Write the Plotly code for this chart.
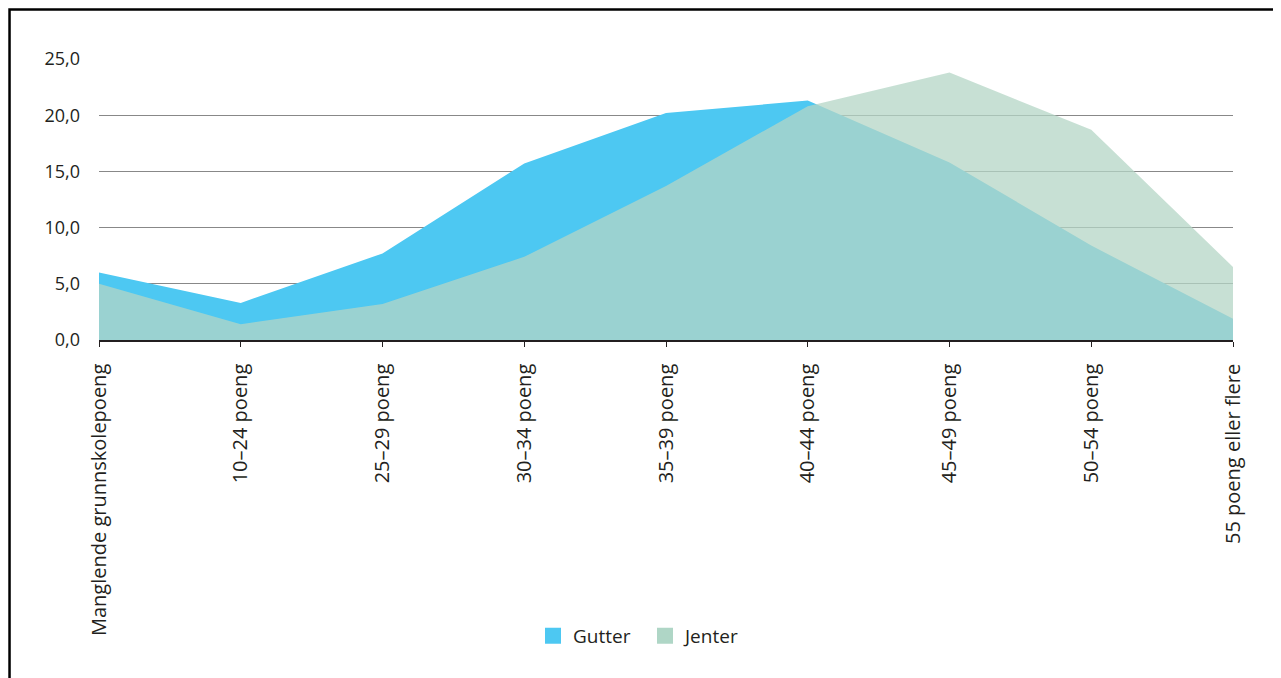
import plotly.graph_objects as go

# Categories on the x axis
categories = [
    "Manglende grunnskolepoeng",
    "10–24 poeng",
    "25–29 poeng",
    "30–34 poeng",
    "35–39 poeng",
    "40–44 poeng",
    "45–49 poeng",
    "50–54 poeng",
    "55 poeng eller flere",
]

# Share (percent) per group
gutter = [6.0, 3.3, 7.7, 15.7, 20.2, 21.3, 15.8, 8.4, 1.9]
jenter = [5.0, 1.4, 3.2, 7.4, 13.7, 20.8, 23.8, 18.7, 6.5]

y_ticks = [0, 5, 10, 15, 20, 25]

BLUE = "#4dc8f2"
GREEN = "rgba(180,214,198,0.75)"
GREEN_LEGEND = "#afd6c6"
TEXT = "#231f20"
FONT = "Open Sans, Noto Sans, sans-serif"

fig = go.Figure()

fig.add_trace(go.Scatter(
    x=categories, y=gutter, name="Gutter",
    mode="lines", fill="tozeroy",
    line=dict(width=0, color=BLUE), fillcolor=BLUE,
    showlegend=False, hoverinfo="x+y+name",
))
fig.add_trace(go.Scatter(
    x=categories, y=jenter, name="Jenter",
    mode="lines", fill="tozeroy",
    line=dict(width=0, color=GREEN), fillcolor=GREEN,
    showlegend=False, hoverinfo="x+y+name",
))

# legend-only square swatches
for name, col in [("Gutter", BLUE), ("Jenter", GREEN_LEGEND)]:
    fig.add_trace(go.Scatter(
        x=[None], y=[None], name=name, mode="markers",
        marker=dict(symbol="square", size=16, color=col),
    ))

# page body has an 8px margin, so the figure is sized/offset for that
fig.update_layout(
    width=1273,
    height=670,
    paper_bgcolor="white",
    plot_bgcolor="white",
    separators=", ",
    font=dict(family=FONT, size=18, color=TEXT),
    margin=dict(l=91, r=48, t=51, b=338),
    showlegend=True,
    legend=dict(
        orientation="h",
        x=0.4815, xanchor="center",
        y=-1.053, yanchor="middle",
        font=dict(size=19, color=TEXT),
        itemsizing="trace",
        itemwidth=30,
        entrywidth=67,
    ),
    xaxis=dict(
        range=[0, len(categories) - 1],
        tickangle=-90,
        showgrid=False,
        showline=True,
        linecolor="#231f20",
        linewidth=1.5,
        ticks="outside",
        ticklen=5,
        tickcolor="#231f20",
        tickfont=dict(size=20, color=TEXT),
        ticklabelstandoff=9,
        zeroline=False,
    ),
    yaxis=dict(
        range=[0, 25],
        tickvals=y_ticks,
        tickformat=".1f",
        showgrid=True,
        gridcolor="#888888",
        gridwidth=1,
        zeroline=False,
        showline=False,
        ticks="",
        tickfont=dict(size=18, color=TEXT),
        ticklabelstandoff=18,
    ),
    shapes=[dict(
        type="rect", xref="paper", yref="paper",
        x0=-0.0789, x1=1.2, y0=-1.4, y1=1.176,
        line=dict(color="black", width=2.5),
        fillcolor="rgba(0,0,0,0)",
        layer="above",
    )],
)

fig.write_html("out.html")
